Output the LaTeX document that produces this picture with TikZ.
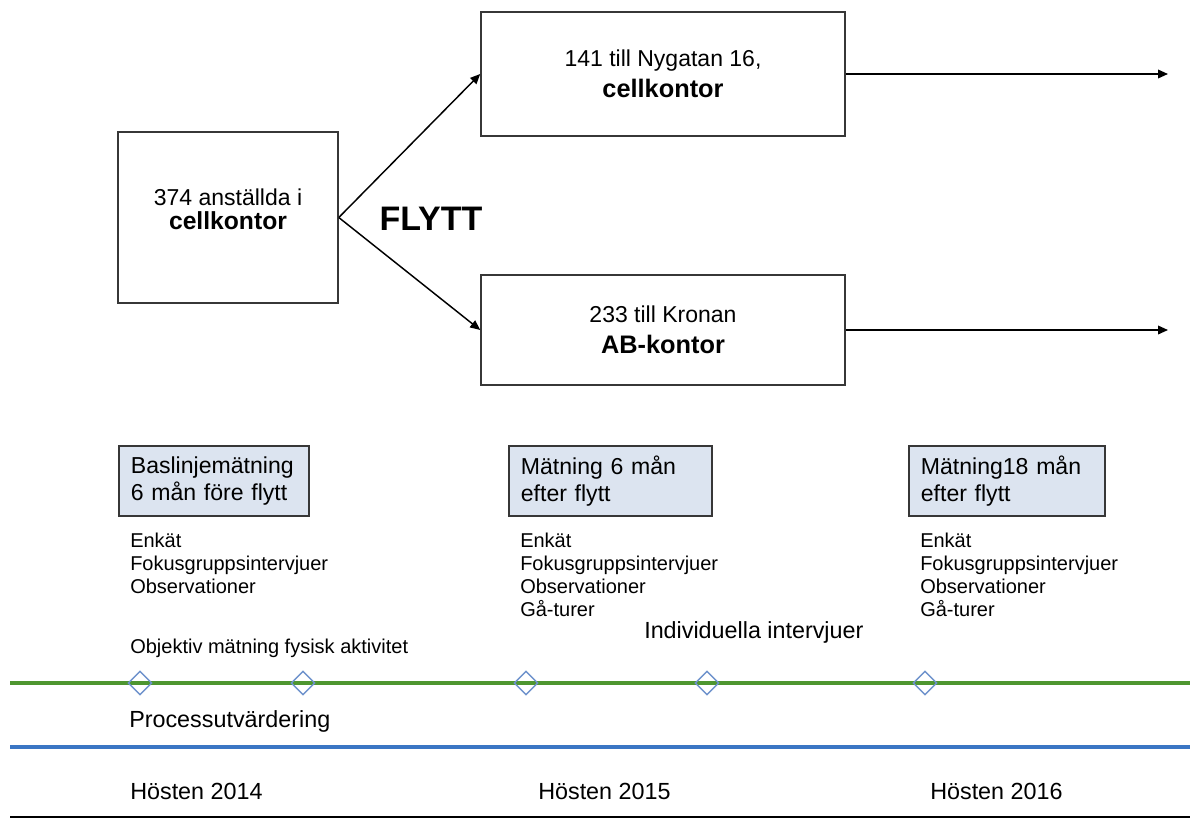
\documentclass[tikz,border=0pt]{standalone}
\usepackage{fontspec}
\setmainfont{Liberation Sans}
\usepackage{tikz}
\usetikzlibrary{shapes.geometric,arrows.meta}
\definecolor{boxfill}{RGB}{220,228,240}
\definecolor{boxline}{RGB}{55,55,55}
\definecolor{tlgreen}{RGB}{78,150,48}
\definecolor{tlblue}{RGB}{58,118,196}
\definecolor{diamondblue}{RGB}{110,146,204}
\tikzset{
  officebox/.style={draw=boxline, line width=1.2pt, inner sep=0pt, align=center,
    font=\fontsize{17.25}{23.25}\selectfont},
  moveline/.style={line width=1.1pt, -{Triangle[length=7.5pt,width=6.5pt]}},
  phasebox/.style={draw=boxline, line width=1.3pt, fill=boxfill, anchor=west, align=left,
    inner xsep=9pt, inner ysep=0pt, minimum height=52.5pt, font=\fontsize{17.3}{20.25}\selectfont},
  methods/.style={anchor=base west, inner sep=0pt, align=left, font=\fontsize{15}{17.25}\selectfont},
  tltext/.style={anchor=base west, inner sep=0pt, font=\fontsize{17.5}{21}\selectfont},
  milestone/.style={diamond, draw=diamondblue, line width=1.1pt, minimum size=18pt, inner sep=0pt}
}
\begin{document}
\begin{tikzpicture}[x=0.75pt, y=-0.75pt]
\useasboundingbox (0,0) rectangle (1190,818);
\node[officebox, minimum width=165pt, minimum height=128.25pt] (staff) at (228,217.5) {};
\node[align=center, inner sep=0pt, font=\fontsize{17.25}{18}\selectfont] (stafftext) at (228,209) {374 anställda i\\{\fontsize{18.5}{18}\selectfont\bfseries cellkontor}};
\node[officebox, minimum width=273pt, minimum height=93pt] (nygatan) at (663,74) {141 till Nygatan 16,\\{\fontsize{19}{23.25}\selectfont\bfseries cellkontor}};
\node[officebox, minimum width=273pt, minimum height=82.5pt] (kronan) at (663,330) {233 till Kronan\\{\fontsize{19}{23.25}\selectfont\bfseries AB-kontor}};
\node[font=\fontsize{25.5}{25.5}\selectfont\bfseries, inner sep=0pt, anchor=base] (flytt) at (431,230) {FLYTT};
\coordinate (nyend) at (1168,74);
\coordinate (krend) at (1168,330);
\draw[moveline] (staff.east) -- (nygatan.west);
\draw[moveline] (staff.east) -- (kronan.west);
\draw[moveline] (nygatan.east) -- (nyend);
\draw[moveline] (kronan.east) -- (krend);
\node[phasebox, text width=124.5pt] (baseline) at (118,481) {Baslinjemätning\\6 mån före flytt};
\node[phasebox, text width=134.25pt] (after6) at (508,481) {Mätning 6 mån\\efter flytt};
\node[phasebox, text width=129pt] (after18) at (908,481) {Mätning18 mån\\efter flytt};
\node[methods] (methods1) at (130,593) {Enkät\\Fokusgruppsintervjuer\\Observationer};
\node[methods] (methods2) at (520,616) {Enkät\\Fokusgruppsintervjuer\\Observationer\\Gå-turer};
\node[methods] (methods3) at (920,616) {Enkät\\Fokusgruppsintervjuer\\Observationer\\Gå-turer};
\node[methods] (objektiv) at (130,653) {Objektiv mätning fysisk aktivitet};
\node[tltext] (interviews) at (644,638) {Individuella intervjuer};
\draw[tlgreen, line width=2.4pt] (10,683) -- (1190,683);
\node[milestone] (d1) at (140,683) {};
\node[milestone] (d2) at (303,683) {};
\node[milestone] (d3) at (526,683) {};
\node[milestone] (d4) at (707,683) {};
\node[milestone] (d5) at (925,683) {};
\node[tltext] (process) at (129,727) {Processutvärdering};
\draw[tlblue, line width=2.4pt] (10,747) -- (1190,747);
\node[tltext] (autumn14) at (130,799) {Hösten 2014};
\node[tltext] (autumn15) at (538,799) {Hösten 2015};
\node[tltext] (autumn16) at (930,799) {Hösten 2016};
\draw[line width=2pt] (10,817) -- (1190,817);
\end{tikzpicture}
\end{document}
